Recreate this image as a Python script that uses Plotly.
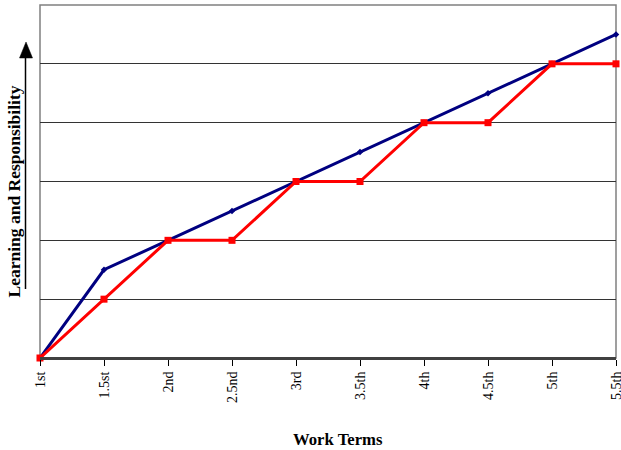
import plotly.graph_objects as go

# Work-term categories along the horizontal axis
terms = ["1st", "1.5st", "2nd", "2.5nd", "3rd", "3.5th", "4th", "4.5th", "5th", "5.5th"]
# Steady growth in learning and responsibility
steady = [0, 1.5, 2, 2.5, 3, 3.5, 4, 4.5, 5, 5.5]
# Stepwise growth: gains at each full term, plateaus in between
stepwise = [0, 1, 2, 2, 3, 3, 4, 4, 5, 5]

W, H = 621, 450
L, R, T, B = 40, 5, 5, 92
pw, ph = W - L - R, H - T - B

serif = "Liberation Serif, Times New Roman, serif"

fig = go.Figure()
fig.add_trace(go.Scatter(
    x=terms, y=steady, mode="lines+markers",
    line=dict(color="#000080", width=3),
    marker=dict(symbol="diamond", size=5, color="#000080"),
    cliponaxis=False, showlegend=False,
))
fig.add_trace(go.Scatter(
    x=terms, y=stepwise, mode="lines+markers",
    line=dict(color="#ff0000", width=3),
    marker=dict(symbol="square", size=7, color="#ff0000"),
    cliponaxis=False, showlegend=False,
))

fig.update_layout(
    width=W, height=H,
    margin=dict(l=L, r=R, t=T, b=B, autoexpand=False),
    plot_bgcolor="white", paper_bgcolor="white",
    font=dict(family=serif, color="black", size=14),
    xaxis=dict(
        type="category", range=[0, len(terms) - 1], automargin=False,
        showgrid=False, zeroline=False,
        showline=True, linecolor="#404040", linewidth=2,
        ticks="outside", ticklen=6, tickwidth=1, tickcolor="black",
        tickangle=-90, tickfont=dict(family=serif, size=14, color="black"),
    ),
    yaxis=dict(
        range=[0, 6], tickvals=[1, 2, 3, 4, 5], automargin=False,
        showticklabels=False, ticks="",
        showgrid=True, gridcolor="#333333", gridwidth=1,
        zeroline=False, showline=False,
    ),
)

def px_x(x):
    return (x - L) / pw

def px_y(y):
    return (H - B - y) / ph

# Gray plot-area border (top, left, right)
fig.add_shape(type="rect", xref="paper", yref="paper", x0=0, y0=0, x1=1, y1=1,
              line=dict(color="#808080", width=1.5), layer="below")
# Re-draw the bottom axis line over the border
fig.add_shape(type="line", xref="paper", yref="paper", x0=0, y0=0, x1=1, y1=0,
              line=dict(color="#404040", width=2))

# Upward arrow beside the vertical axis title
fig.add_shape(type="line", xref="paper", yref="paper",
              x0=px_x(25.5), y0=px_y(289), x1=px_x(25.5), y1=px_y(56),
              line=dict(color="black", width=1.5))
fig.add_shape(type="path", xref="paper", yref="paper",
              path=(f"M {px_x(19.5)} {px_y(58)} L {px_x(32.5)} {px_y(58)} "
                    f"L {px_x(26)} {px_y(42)} Z"),
              fillcolor="black", line=dict(color="black", width=0.5))

fig.add_annotation(
    xref="paper", yref="paper", x=px_x(13), y=px_y(191.5),
    text="<b>Learning and Responsibility</b>", textangle=-90, showarrow=False,
    font=dict(family=serif, size=17.5, color="black"),
    xanchor="center", yanchor="middle",
)
fig.add_annotation(
    xref="paper", yref="paper", x=px_x(337.5), y=px_y(440),
    text="<b>Work Terms</b>", showarrow=False,
    font=dict(family=serif, size=16.7, color="black"),
    xanchor="center", yanchor="middle",
)

fig.write_html("out.html")
